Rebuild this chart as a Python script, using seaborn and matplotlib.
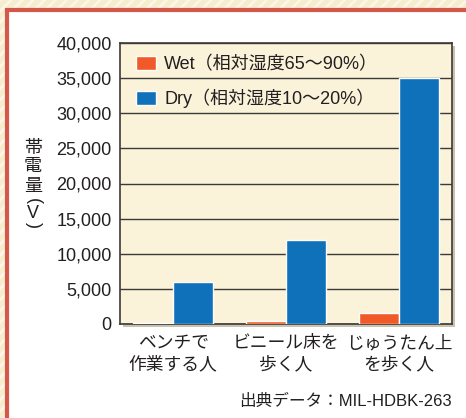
import numpy as np
import pandas as pd
import matplotlib
matplotlib.use('Agg')
import matplotlib.pyplot as plt
from matplotlib.patches import Rectangle
import seaborn as sns

# data
categories = ['ベンチで\n作業する人', 'ビニール床を\n歩く人', 'じゅうたん上\nを歩く人']
wet_values = [200, 400, 1500]
dry_values = [6000, 12000, 35000]
series_labels = ['Wet（相対湿度65～90%）', 'Dry（相対湿度10～20%）']
colors = ['#f05a28', '#0f71b9']
yticks = [0, 5000, 10000, 15000, 20000, 25000, 30000, 35000, 40000]

df = pd.DataFrame({
    'cat': categories * 2,
    'value': wet_values + dry_values,
    'series': [series_labels[0]] * 3 + [series_labels[1]] * 3,
})

sns.set_theme(style='white')
plt.rcParams['font.family'] = ['Liberation Sans', 'Noto Sans CJK JP']
plt.rcParams['hatch.linewidth'] = 2.0

W, H = 466, 418
fig = plt.figure(figsize=(W / 100, H / 100), dpi=100)
fig.patch.set_facecolor('#f6edcf')
fig.patches.append(Rectangle((0, 0), 1, 1, transform=fig.transFigure,
                             facecolor='none', edgecolor='#fbf6e8', hatch='///',
                             linewidth=0, zorder=0))
fig.patches.append(Rectangle((7 / W, -0.05), 1.1, 1 - 10 / H + 0.05,
                             transform=fig.transFigure, facecolor='white',
                             edgecolor='#d4574a', linewidth=3, zorder=1))

left, right, top, bottom = 120, 452, 43, 324
rect = [left / W, 1 - bottom / H, (right - left) / W, (bottom - top) / H]
# soft shadow behind the axes
fig.patches.append(Rectangle((rect[0] + 3 / W, rect[1] - 3 / H), rect[2], rect[3],
                             transform=fig.transFigure, facecolor='#c9c2b0',
                             edgecolor='none', zorder=2))
ax = fig.add_axes(rect, zorder=3)
ax.set_facecolor('#faf2d9')

sns.barplot(data=df, x='cat', y='value', hue='series', palette=colors,
            width=0.71, saturation=1, ax=ax, zorder=3)

ax.set_ylim(0, 40000)
ax.set_xlim(-0.47, 2.47)
ax.set_yticks(yticks)
ax.set_yticklabels([f'{v:,}' for v in yticks], fontsize=13, color='#231f20')
ax.set_xticks(range(3))
ax.set_xticklabels(categories, fontsize=12.8, color='#231f20', linespacing=1.3)
ax.tick_params(axis='y', length=0, pad=6)
ax.tick_params(axis='x', length=0, pad=8)
ax.yaxis.grid(True, color='#3c3a36', linewidth=1)
ax.set_axisbelow(True)
for s in ax.spines.values():
    s.set_color('#3c3a36')
    s.set_linewidth(1.2)
ax.set_xlabel('')
ax.set_ylabel('')

leg = ax.legend(loc='upper left', bbox_to_anchor=(0.0, 1.01), frameon=False,
                fontsize=13, handlelength=1.1, handleheight=0.8,
                handletextpad=0.45, labelspacing=0.85)
for t in leg.get_texts():
    t.set_color('#231f20')

# vertical axis title: stacked characters, brackets turned sideways
for ch, yy in zip(['帯', '電', '量'], [148, 167, 186]):
    fig.text(33 / W, 1 - yy / H, ch, ha='center', va='center',
             fontsize=13, color='#231f20')
fig.text(33 / W, 1 - 201 / H, '(', rotation=-90, ha='center', va='center',
         fontsize=13, color='#231f20')
fig.text(33 / W, 1 - 213 / H, 'V', ha='center', va='center',
         fontsize=13, color='#231f20')
fig.text(33 / W, 1 - 225 / H, ')', rotation=-90, ha='center', va='center',
         fontsize=13, color='#231f20')

fig.text(452 / W, 1 - 401 / H, '出典データ：MIL-HDBK-263', ha='right', va='center',
         fontsize=12, color='#231f20')

fig.savefig('out.png', dpi=100, facecolor=fig.get_facecolor())
